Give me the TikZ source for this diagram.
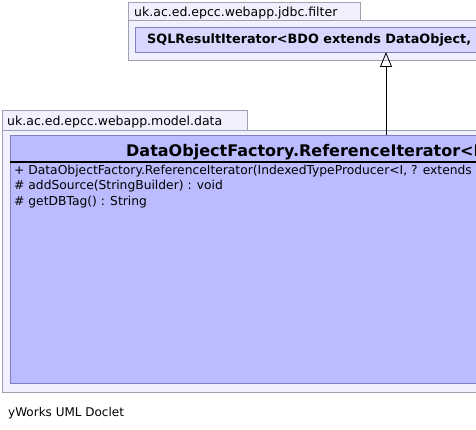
\documentclass[tikz,border=0pt]{standalone}
\usepackage{fontspec}
\setmainfont{DejaVu Sans}
\usetikzlibrary{arrows.meta}
\definecolor{pkgfill}{RGB}{240,240,255}
\definecolor{pkgline}{RGB}{160,160,176}
\definecolor{clsfill}{RGB}{187,187,255}
\definecolor{clsline}{RGB}{128,128,192}
\definecolor{topfill}{RGB}{216,216,255}
\tikzset{
  pkg/.style={draw=pkgline, fill=pkgfill, line width=0.8pt},
  cls/.style={draw=clsline, fill=clsfill, line width=0.8pt},
  tcls/.style={draw=clsline, fill=topfill, line width=0.8pt},
  lbl/.style={anchor=base west, inner sep=0pt, font=\fontsize{12.5}{14}\selectfont},
  meth/.style={anchor=base west, inner sep=0pt, font=\fontsize{12.3}{14}\selectfont},
}
\begin{document}
\begin{tikzpicture}[x=1pt,y=-1pt]
\useasboundingbox (0,0) rectangle (476,430);
\clip (0,0) rectangle (476,430);
% top package
\draw[pkg] (128,2) rectangle (360,20);
\draw[pkg] (128,20) rectangle (490,60);
\node[lbl] (tpl) at (134,16.5) {uk.ac.ed.epcc.webapp.jdbc.filter};
\draw[tcls] (135,27) rectangle (490,52);
\node[anchor=base west, inner sep=0pt, font=\bfseries\fontsize{12.8}{14}\selectfont] (sql) at (147,43.5) {SQLResultIterator<BDO extends DataObject,};
\coordinate (sqlb) at (386,52);
% bottom package
\draw[pkg] (2,110) rectangle (247,130);
\draw[pkg] (2,130) rectangle (490,392);
\node[lbl] (bpl) at (7,125.5) {uk.ac.ed.epcc.webapp.model.data};
\draw[cls] (10,135) rectangle (490,383);
\draw[line width=1.8pt] (10,162) -- (490,162);
\node[anchor=base west, inner sep=0pt, font=\bfseries\fontsize{16}{18}\selectfont] (title) at (126,156.5) {DataObjectFactory.ReferenceIterator<I};
\coordinate (clst) at (386,135);
\node[meth] (m1) at (14,174.5) {+ DataObjectFactory.ReferenceIterator(IndexedTypeProducer<I, ? extends};
\node[meth] (m2) at (14,190) {\# addSource(StringBuilder) : void};
\node[meth] (m3) at (14,205.5) {\# getDBTag() : String};
% generalization
\draw[line width=0.8pt, -{Triangle[open, length=15pt, width=12pt]}] (clst) -- (sqlb);
% footer
\node[lbl, font=\fontsize{12}{14}\selectfont] (foot) at (8,416) {yWorks UML Doclet};
\end{tikzpicture}
\end{document}
